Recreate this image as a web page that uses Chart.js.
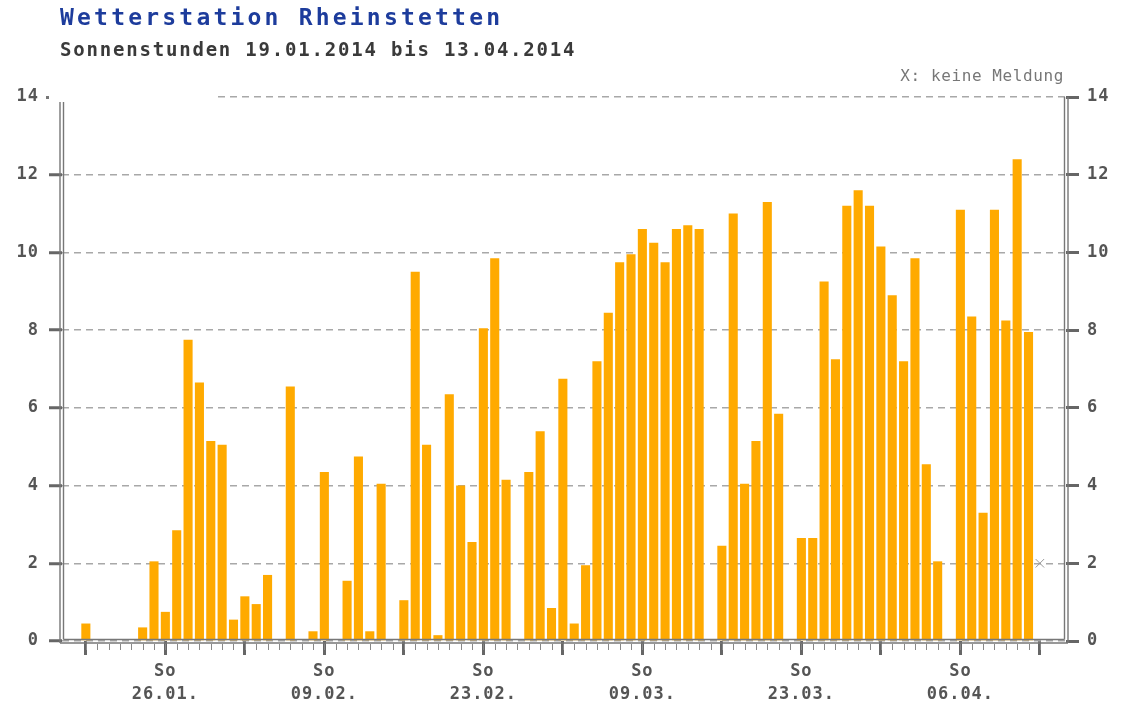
<!DOCTYPE html>
<html>
<head>
  <title>Wetterstation Rheinstetten - Sonnenstunden</title>
  <script src="https://cdn.jsdelivr.net/npm/chart.js"></script>
  <style>
    body { margin: 0; background: #fff; font-family: 'DejaVu Sans Mono', monospace; }
    .wrap { position: relative; width: 1126px; height: 710px; }
    #title { position: absolute; left: 60px; top: 4px; font-size: 23px; font-weight: bold; color: #1d3c9c; letter-spacing: 3.2px; }
    #subtitle { position: absolute; left: 60px; top: 38px; font-size: 19px; font-weight: bold; color: #3a3a3a; letter-spacing: 1.8px; }
    #note { position: absolute; right: 62px; top: 66px; font-size: 16px; color: #777; letter-spacing: 0.6px; }
    canvas { position: absolute; left: 0; top: 0; }
  </style>
</head>
<body>
  <div class="wrap">
    <canvas id="sunChart" width="1126" height="710"></canvas>
    <div id="title">Wetterstation Rheinstetten</div>
    <div id="subtitle">Sonnenstunden 19.01.2014 bis 13.04.2014</div>
    <div id="note">X: keine Meldung</div>
  </div>

  <script>
    // Sonnenstunden pro Tag, 19.01.2014 (Tag 0) bis 13.04.2014 (Tag 84)
    const sunHours = [
      0.45, 0, 0, 0, 0, 0.35, 2.05,             // 19.01. - 25.01.
      0.75, 2.85, 7.75, 6.65, 5.15, 5.05, 0.55, // 26.01. - 01.02.
      1.15, 0.95, 1.7, 0, 6.55, 0, 0.25,        // 02.02. - 08.02.
      4.35, 0, 1.55, 4.75, 0.25, 4.05, 0,       // 09.02. - 15.02.
      1.05, 9.5, 5.05, 0.15, 6.35, 4.0, 2.55,   // 16.02. - 22.02.
      8.05, 9.85, 4.15, 0, 4.35, 5.4, 0.85,     // 23.02. - 01.03.
      6.75, 0.45, 1.95, 7.2, 8.45, 9.75, 9.95,  // 02.03. - 08.03.
      10.6, 10.25, 9.75, 10.6, 10.7, 10.6, 0,   // 09.03. - 15.03.
      2.45, 11.0, 4.05, 5.15, 11.3, 5.85, 0,    // 16.03. - 22.03.
      2.65, 2.65, 9.25, 7.25, 11.2, 11.6, 11.2, // 23.03. - 29.03.
      10.15, 8.9, 7.2, 9.85, 4.55, 2.05, 0,     // 30.03. - 05.04.
      11.1, 8.35, 3.3, 11.1, 8.25, 12.4, 7.95,  // 06.04. - 12.04.
      null                                      // 13.04. keine Meldung
    ];
    const missingDays = [84];
    const missingMarkY = 2;

    // beschriftete Sonntage (Tag 7, 21, 35, ...)
    const sundayLabels = ['26.01.', '09.02.', '23.02.', '09.03.', '23.03.', '06.04.'];
    const yTicks = [0, 2, 4, 6, 8, 10, 12, 14];

    const axisGrey = '#777';
    const tickFont = { family: 'DejaVu Sans Mono', size: 17, weight: 'bold', lineHeight: 1.3 };

    // doppelte Achslinien, kleine Tagesstriche, Abdeckung oben links
    const framePlugin = {
      id: 'frame',
      beforeDraw(chart) {
        chart.ctx.letterSpacing = '1px';
      },
      afterDraw(chart) {
        const ctx = chart.ctx;
        const a = chart.chartArea;
        const x = chart.scales.x;
        ctx.save();
        // weisse Flaeche ueber der 14er Linie links
        ctx.fillStyle = '#fff';
        ctx.fillRect(44, a.top - 4, 170, 8);
        ctx.fillStyle = axisGrey;
        ctx.fillRect(46, a.top - 1, 3, 3);

        ctx.strokeStyle = axisGrey;
        ctx.lineWidth = 1.4;
        ctx.beginPath();
        // links
        ctx.moveTo(a.left - 2, a.top + 5); ctx.lineTo(a.left - 2, a.bottom + 2);
        ctx.moveTo(a.left + 1.5, a.top + 5); ctx.lineTo(a.left + 1.5, a.bottom - 1.5);
        // rechts
        ctx.moveTo(a.right + 2, a.top); ctx.lineTo(a.right + 2, a.bottom + 2);
        ctx.moveTo(a.right - 1.5, a.top); ctx.lineTo(a.right - 1.5, a.bottom - 1.5);
        // unten
        ctx.moveTo(a.left - 2, a.bottom + 2); ctx.lineTo(a.right + 2, a.bottom + 2);
        ctx.moveTo(a.left + 1.5, a.bottom - 1.5); ctx.lineTo(a.right - 1.5, a.bottom - 1.5);
        ctx.stroke();

        // Tagesstriche
        ctx.lineWidth = 1;
        ctx.strokeStyle = '#888';
        ctx.beginPath();
        for (let d = 0; d < sunHours.length; d++) {
          const px = Math.round(x.getPixelForValue(d)) + 0.5;
          ctx.moveTo(px, a.bottom + 3);
          ctx.lineTo(px, a.bottom + 9);
        }
        ctx.stroke();
        ctx.restore();
      }
    };

    new Chart(document.getElementById('sunChart'), {
      type: 'bar',
      data: {
        datasets: [
          {
            type: 'bar',
            data: sunHours.map((v, i) => ({ x: i, y: v })),
            backgroundColor: '#ffaa00',
            borderWidth: 0,
            barPercentage: 0.8,
            categoryPercentage: 1.0
          },
          {
            type: 'scatter',
            data: missingDays.map(d => ({ x: d, y: missingMarkY })),
            pointStyle: 'crossRot',
            radius: 6,
            borderColor: '#999',
            borderWidth: 1
          }
        ]
      },
      options: {
        responsive: false,
        animation: false,
        events: [],
        layout: { padding: { top: 97 } },
        plugins: { legend: { display: false }, tooltip: { enabled: false } },
        scales: {
          x: {
            type: 'linear',
            min: -2.1,
            max: 86.3,
            offset: false,
            afterFit(s) { s.height = 69; },
            border: { display: false },
            grid: {
              offset: false,
              drawOnChartArea: false,
              tickLength: 14,
              tickWidth: 3,
              tickColor: '#666'
            },
            ticks: {
              stepSize: 7,
              includeBounds: false,
              autoSkip: false,
              maxRotation: 0,
              padding: 6,
              color: '#555',
              font: tickFont,
              callback(v) {
                if (v >= 7 && (v - 7) % 14 === 0) return ['So', sundayLabels[(v - 7) / 14]];
                return '';
              }
            }
          },
          y: {
            position: 'left',
            min: 0,
            max: 14,
            afterFit(s) { s.width = 62; },
            afterBuildTicks(s) { s.ticks = yTicks.map(v => ({ value: v })); },
            border: { display: false, dash: [7, 5] },
            grid: {
              color: '#a8a8a8',
              lineWidth: 1.5,
              tickLength: 13,
              tickWidth: 3,
              tickColor: '#666'
            },
            ticks: { padding: 10, color: '#555', font: tickFont }
          },
          y2: {
            position: 'right',
            min: 0,
            max: 14,
            afterFit(s) { s.width = 60; },
            afterBuildTicks(s) { s.ticks = yTicks.map(v => ({ value: v })); },
            border: { display: false },
            grid: {
              drawOnChartArea: false,
              tickLength: 13,
              tickWidth: 3,
              tickColor: '#666'
            },
            ticks: { padding: 8, color: '#555', font: tickFont }
          }
        }
      },
      plugins: [framePlugin]
    });
  </script>
</body>
</html>
